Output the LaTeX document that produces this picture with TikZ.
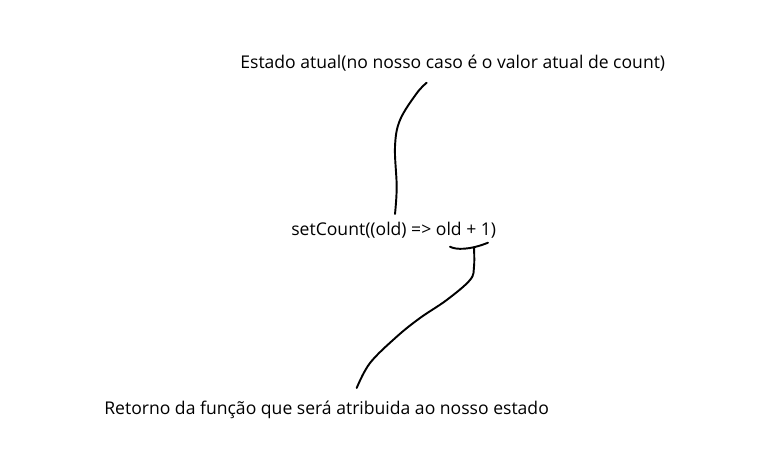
\documentclass[tikz,border=0pt]{standalone}
\usepackage{fontspec}
\setmainfont{Open Sans}
\begin{document}
\begin{tikzpicture}[x=0.02cm,y=-0.02cm]
  % Styles
  \tikzstyle{label text}=[inner sep=0pt,anchor=west,font=\fontsize{10}{12}\selectfont]
  \tikzstyle{pen line}=[line width=1.1pt,line cap=round,line join=round]

  \useasboundingbox (0,0) rectangle (769,458);

  % The texts
  \node[label text] (state) at (240,63) {Estado atual(no nosso caso é o valor atual de count)};
  \node[label text] (call) at (291,230) {setCount((old) => old + 1)};
  \node[label text] (result) at (104,410) {Retorno da função que será atribuida ao nosso estado};

  % Ends of the strokes
  \coordinate (state tail) at (426.7,82.7);
  \coordinate (call head) at (395,214);
  \coordinate (brace left) at (450,246.7);
  \coordinate (brace right) at (488,242.7);
  \coordinate (brace tip) at (474,247.5);
  \coordinate (result head) at (356.7,388);

  % The strokes
  \draw[pen line] plot[smooth,tension=0.6] coordinates
    {(state tail) (416.7,93.3) (400,120) (395,146.7) (396.7,186.7) (call head)};
  \draw[pen line] (brace left) .. controls (456,250) and (470,250) .. (brace right);
  \draw[pen line] plot[smooth,tension=0.6] coordinates
    {(brace tip) (474,266.7) (470,280) (446.7,300) (420,318) (396.7,336.7) (370,363) (result head)};
\end{tikzpicture}
\end{document}
